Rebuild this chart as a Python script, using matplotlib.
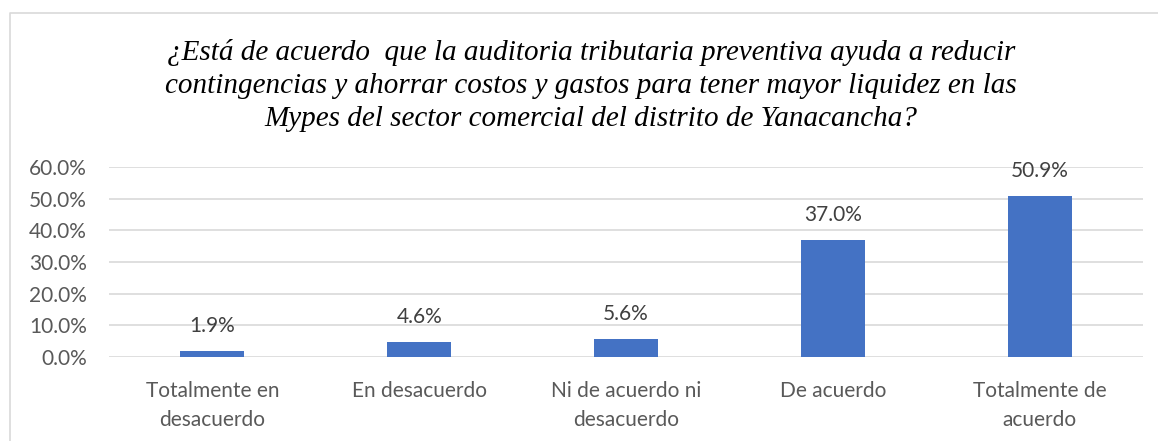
import matplotlib.pyplot as plt
from matplotlib.lines import Line2D

categories = ["Totalmente en\ndesacuerdo", "En desacuerdo", "Ni de acuerdo ni\ndesacuerdo",
              "De acuerdo", "Totalmente de\nacuerdo"]
values = [1.9, 4.6, 5.6, 37.0, 50.9]
yticks = [0, 10, 20, 30, 40, 50, 60]

title = ("¿Está de acuerdo  que la auditoria tributaria preventiva ayuda a reducir\n"
         "contingencias y ahorrar costos y gastos para tener mayor liquidez en las\n"
         "Mypes del sector comercial del distrito de Yanacancha?")

W, H = 1158, 441
fig = plt.figure(figsize=(W / 100, H / 100), dpi=100)
ax = fig.add_axes([109 / W, 1 - 357 / H, (1143 - 109) / W, (357 - 167) / H])

x = range(len(values))
ax.bar(x, values, width=0.31, color="#4472C4", zorder=3)
for xi, v in zip(x, values):
    ax.annotate(f"{v:.1f}%", (xi, v), xytext=(0, 11), textcoords="offset points",
                ha="center", va="bottom", fontsize=15, color="#404040", family="Lato")

ax.set_xlim(-0.5, 4.5)
ax.set_ylim(0, 60)
ax.set_yticks(yticks)
ax.set_yticklabels([f"{t:.1f}%" for t in yticks])
ax.set_xticks(list(x))
ax.set_xticklabels(categories, linespacing=1.6)
ax.grid(axis="y", color="#D9D9D9", linewidth=1.2, zorder=0)
for s in ax.spines.values():
    s.set_visible(False)
ax.tick_params(length=0, labelsize=15, labelcolor="#595959")
ax.tick_params(axis="y", pad=16)
ax.tick_params(axis="x", pad=17)
for lab in ax.get_xticklabels() + ax.get_yticklabels():
    lab.set_family("Lato")

fig.text(591 / W, 1 - 39 / H, title, ha="center", va="top", fontsize=21,
         family="Liberation Serif", style="italic", linespacing=1.35)

# chart border (top and left)
fig.add_artist(Line2D([9.5 / W, 9.5 / W, 1], [0, 1 - 13 / H, 1 - 13 / H],
                      color="#D9D9D9", linewidth=1.2, transform=fig.transFigure))

fig.savefig("out.png", dpi=100, facecolor="white")
